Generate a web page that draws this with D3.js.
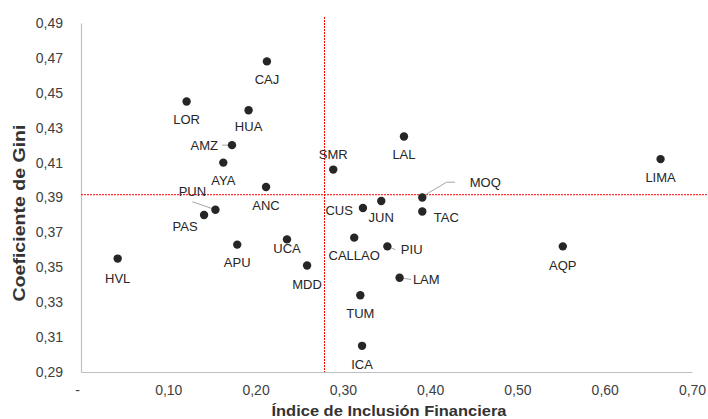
<!DOCTYPE html>
<html><head><meta charset="utf-8">
<script src="https://cdn.jsdelivr.net/npm/d3@7"></script>
<style>body{margin:0;background:#fff}svg{display:block}text{font-family:"Liberation Sans",Arial,sans-serif}</style>
</head><body><svg id="c" width="708" height="419"></svg>
<script>
const regions = ["CAJ","LOR","HUA","AMZ","AYA","SMR","ANC","PUN","PAS","APU","UCA","HVL","MDD","LAL","LIMA","MOQ","CUS","JUN","TAC","CALLAO","PIU","LAM","TUM","ICA","AQP"];
const inclusion = [0.213,0.121,0.192,0.173,0.163,0.289,0.212,0.154,0.141,0.179,0.236,0.042,0.259,0.370,0.664,0.391,0.323,0.344,0.391,0.313,0.351,0.365,0.320,0.322,0.552];
const gini = [0.468,0.445,0.440,0.420,0.410,0.406,0.396,0.383,0.380,0.363,0.366,0.355,0.351,0.425,0.412,0.390,0.384,0.388,0.382,0.367,0.362,0.344,0.334,0.305,0.362];
const meanInclusion = 0.279;
const meanGini = 0.3916;
const xTicks = [0,0.1,0.2,0.3,0.4,0.5,0.6,0.7];
const yTicks = [0.29,0.31,0.33,0.35,0.37,0.39,0.41,0.43,0.45,0.47,0.49];
const xTitle = "Índice de Inclusión Financiera";
const yTitle = "Coeficiente de Gini";

// label layout: [dx, dy (text centre), anchor, leader points]
const labelLayout = {
  CAJ:[0,18,"middle"], LOR:[0,18,"middle"], HUA:[0,16,"middle"],
  AMZ:[-14,0,"end",[[-10,0],[-2,0]]], AYA:[0,18,"middle"], SMR:[0,-15,"middle"],
  ANC:[0,18,"middle"], PUN:[-23,-18,"middle",[[-23,-8],[0,0]]], PAS:[-19,11.5,"middle"],
  APU:[0,18,"middle"], UCA:[0,9,"middle"], HVL:[0,20,"middle"], MDD:[0,18.5,"middle"],
  LAL:[0,18,"middle"], LIMA:[0,18.5,"middle"], MOQ:[63,-15.5,"middle",[[1,-1.6],[24.4,-15.3],[32.7,-15.3]]],
  CUS:[-10,2,"end"], JUN:[0,16.7,"middle"], TAC:[24,6.3,"middle"], CALLAO:[0,18,"middle"],
  PIU:[13.5,3.3,"start",[[0,0],[8,3.3]]], LAM:[13.3,1.7,"start",[[0,0],[11.5,1.7]]],
  TUM:[0,18,"middle"], ICA:[0,18.5,"middle"], AQP:[0,19,"middle"]
};

const svg = d3.select("#c");
const x = d3.scaleLinear().domain([0,0.7]).range([81,692]);
const y = d3.scaleLinear().domain([0.29,0.49]).range([372,23]);
const fmt = v => v === 0 ? "-" : d3.format(".2f")(v).replace(".", ",");

// axes
const gx = svg.append("g").attr("transform","translate(0,372)")
  .call(d3.axisBottom(x).tickValues(xTicks).tickSize(0).tickPadding(13).tickFormat(fmt));
gx.select(".domain").attr("stroke","#bfbfbf").attr("stroke-width",1.2);
gx.selectAll("text").attr("font-size",14).attr("fill","#404040")
  .attr("dx", d => d === 0 ? -4 : 0);

const gy = svg.append("g").attr("transform","translate(81,0)")
  .call(d3.axisLeft(y).tickValues(yTicks).tickSize(0).tickPadding(18).tickFormat(fmt));
gy.select(".domain").attr("stroke","#bfbfbf").attr("stroke-width",1.2);
gy.selectAll("text").attr("font-size",14).attr("fill","#404040");

// mean lines
svg.append("line").attr("x1",x(meanInclusion)).attr("x2",x(meanInclusion))
  .attr("y1",17).attr("y2",372).attr("stroke","#ff0000").attr("stroke-width",1).attr("stroke-dasharray","2,1");
svg.append("line").attr("x1",81).attr("x2",708)
  .attr("y1",y(meanGini)).attr("y2",y(meanGini)).attr("stroke","#ff0000").attr("stroke-width",1).attr("stroke-dasharray","2,1");

const data = regions.map((r,i)=>({r, xv:inclusion[i], yv:gini[i]}));

// leader lines
const line = d3.line();
data.forEach(d=>{
  const L = labelLayout[d.r];
  if (L[3]) {
    svg.append("path").attr("d", line(L[3].map(p=>[x(d.xv)+p[0], y(d.yv)+p[1]])))
      .attr("fill","none").attr("stroke","#a6a6a6").attr("stroke-width",1);
  }
});

svg.append("g").selectAll("circle").data(data).join("circle")
  .attr("cx",d=>x(d.xv)).attr("cy",d=>y(d.yv)).attr("r",4.2).attr("fill","#262626");

svg.append("g").selectAll("text").data(data).join("text")
  .attr("x",d=>x(d.xv)+labelLayout[d.r][0])
  .attr("y",d=>y(d.yv)+labelLayout[d.r][1])
  .attr("dy","0.36em")
  .attr("text-anchor",d=>labelLayout[d.r][2])
  .attr("font-size",13).attr("fill","#262626")
  .text(d=>d.r);

// titles
svg.append("text").attr("x",389).attr("y",416).attr("text-anchor","middle")
  .attr("font-size",14.5).attr("font-weight","bold").attr("fill","#333")
  .attr("textLength",235).attr("lengthAdjust","spacingAndGlyphs").text(xTitle);
svg.append("text").attr("transform","translate(25,213) rotate(-90)").attr("text-anchor","middle")
  .attr("font-size",17).attr("font-weight","bold").attr("fill","#333")
  .attr("textLength",177).attr("lengthAdjust","spacingAndGlyphs").text(yTitle);
</script></body></html>
